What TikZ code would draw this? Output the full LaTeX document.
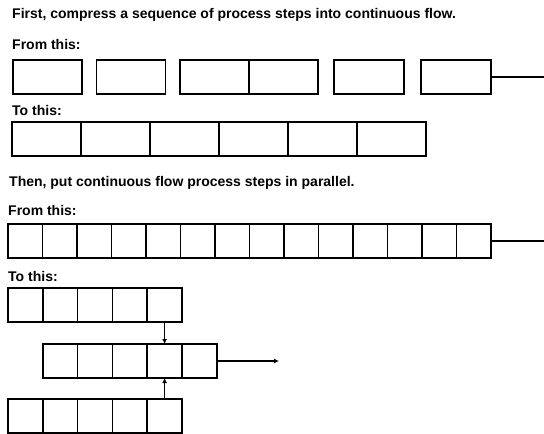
\documentclass[tikz,border=0pt]{standalone}
\usepackage{fontspec}
\setmainfont{Liberation Sans}
\usetikzlibrary{arrows.meta,positioning}
\tikzset{
  cell/.style={draw=black,line width=1.6pt,fill=white,inner sep=0pt,outer sep=0pt,minimum height=34pt},
  lbl/.style={anchor=west,inner sep=0pt,font=\fontsize{14}{16}\selectfont\bfseries},
  conn/.style={line width=1.6pt},
  arr/.style={line width=1.4pt,-{Latex[length=5pt,width=5pt]}}
}
\begin{document}
\begin{tikzpicture}[x=1pt,y=-1pt]
\useasboundingbox (0,0) rectangle (544,434);
% texts
\node[lbl] (t1) at (12,15) {First, compress a sequence of process steps into continuous flow.};
\node[lbl] (f1) at (12,44) {From this:};
\node[lbl] (o1) at (12,110) {To this:};
\node[lbl] (t2) at (9,183) {Then, put continuous flow process steps in parallel.};
\node[lbl] (f2) at (8,210) {From this:};
\node[lbl] (o2) at (8,276) {To this:};
% row 1
\node[cell,minimum width=69pt] (a1) at (47.5,77) {};
\node[cell,minimum width=69pt] (a2) at (131,77) {};
\node[cell,minimum width=69pt] (a3) at (214.5,77) {};
\node[cell,minimum width=69pt] (a4) at (283.5,77) {};
\node[cell,minimum width=70pt] (a5) at (369,77) {};
\node[cell,minimum width=70pt] (a6) at (456,77) {};
\coordinate (a7) at (544,77);
\draw[conn] (a6.east) -- (a7);
% row 2
\foreach \i in {1,...,6} {
  \node[cell,minimum width=69pt] (b\i) at ({12+69*(\i-0.5)},139) {};
}
% row 3
\foreach \i in {1,...,14} {
  \node[cell,minimum width=34.5pt] (c\i) at ({8+34.5*(\i-0.5)},241) {};
}
\coordinate (c15) at (544,241);
\draw[conn] (c14.east) -- (c15);
% parallel
\foreach \i in {1,...,5} {
  \node[cell,minimum width=34.8pt] (d\i) at ({8+34.8*(\i-0.5)},305) {};
  \node[cell,minimum width=34.8pt] (e\i) at ({42.8+34.8*(\i-0.5)},361) {};
  \node[cell,minimum width=34.8pt] (f\i) at ({8+34.8*(\i-0.5)},416) {};
}
\coordinate (e6) at (279,361);
\draw[arr] (e5.east) -- (e6);
\draw[arr] (d5.south) -- (e4.north);
\draw[arr] (f5.north) -- (e4.south);
\end{tikzpicture}
\end{document}
